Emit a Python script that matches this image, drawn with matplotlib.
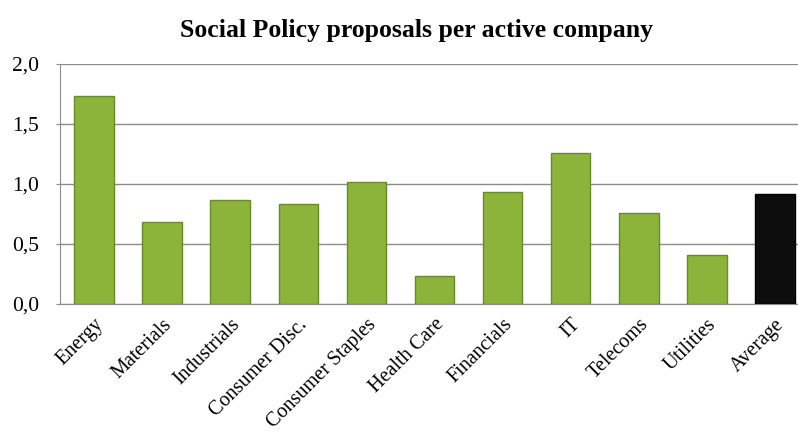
import numpy as np
import matplotlib
matplotlib.use('Agg')
import matplotlib.pyplot as plt
from matplotlib.ticker import FuncFormatter

sectors = ['Energy', 'Materials', 'Industrials', 'Consumer Disc.', 'Consumer Staples',
           'Health Care', 'Financials', 'IT', 'Telecoms', 'Utilities', 'Average']
proposals = [1.73, 0.68, 0.87, 0.83, 1.02, 0.23, 0.93, 1.26, 0.76, 0.41, 0.92]

plt.rcParams['font.family'] = ['Liberation Serif', 'DejaVu Serif']

fig = plt.figure(figsize=(7.98, 4.41), dpi=100)
# plot area runs slightly past the right edge, as in the source image
ax = fig.add_axes([60 / 798, 1 - 304 / 441, 749 / 798, 240 / 441])

x = np.arange(len(sectors))
colors = ['#8db43a'] * (len(sectors) - 1) + ['#0d0d0d']
edges = ['#6a8a2a'] * (len(sectors) - 1) + ['#000000']
ax.bar(x, proposals, width=0.58, color=colors, edgecolor=edges, linewidth=1.0, zorder=3)

ax.set_xlim(-0.5, len(sectors) - 0.5)
ax.set_ylim(0, 2.0)
ax.set_yticks([0, 0.5, 1.0, 1.5, 2.0])
ax.yaxis.set_major_formatter(FuncFormatter(lambda v, p: f'{v:.1f}'.replace('.', ',')))
ax.grid(axis='y', color='#8c8c8c', linewidth=1.0, zorder=0)

ax.set_xticks(x)
ax.set_xticklabels(sectors, rotation=45, ha='right', rotation_mode='anchor', fontsize=14.5)
ax.tick_params(axis='x', length=0, pad=8)
ax.tick_params(axis='y', length=3, color='#8c8c8c', labelsize=15.5, pad=12)

for s in ['top', 'right']:
    ax.spines[s].set_visible(False)
ax.spines['left'].set_color('#8c8c8c')
ax.spines['bottom'].set_color('#8c8c8c')

fig.suptitle('Social Policy proposals per active company', x=416 / 798, y=1 - 30 / 441,
             va='center', fontsize=18.5, fontweight='bold')

fig.savefig('out.png', dpi=100)
